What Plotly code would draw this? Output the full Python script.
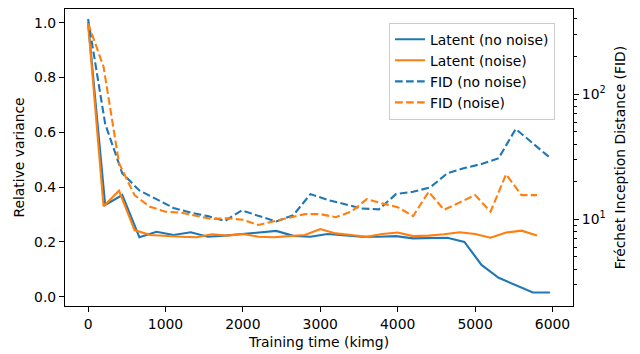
import plotly.graph_objects as go

# Training time (kimg) for each run
kimg_no_noise = [0, 221, 442, 663, 884, 1105, 1326, 1547, 1768, 1989, 2210, 2431, 2652, 2873,
                 3094, 3315, 3536, 3757, 3978, 4199, 4420, 4641, 4862, 5083, 5304, 5525, 5746, 5967]
kimg_noise = [0, 200, 400, 600, 800, 1000, 1200, 1400, 1600, 1800, 2000, 2200, 2400, 2600, 2800,
              3000, 3200, 3400, 3600, 3800, 4000, 4200, 4400, 4600, 4800, 5000, 5200, 5400, 5600, 5800]

latent_no_noise = [1.0, 0.335, 0.371, 0.217, 0.237, 0.225, 0.235, 0.219, 0.223, 0.228, 0.235, 0.240,
                   0.222, 0.219, 0.229, 0.225, 0.219, 0.219, 0.221, 0.213, 0.215, 0.215, 0.200, 0.116,
                   0.069, 0.043, 0.015, 0.015]
latent_noise = [1.0, 0.33, 0.387, 0.243, 0.225, 0.221, 0.219, 0.217, 0.228, 0.223, 0.229, 0.219, 0.217,
                0.221, 0.225, 0.247, 0.231, 0.225, 0.219, 0.229, 0.234, 0.221, 0.223, 0.228, 0.235,
                0.229, 0.215, 0.234, 0.241, 0.223]
fid_no_noise = [400, 58, 23.3, 17.0, 14.5, 12.3, 11.3, 10.6, 9.7, 11.8, 10.6, 9.6, 10.8, 15.9, 14.3,
                13.2, 12.2, 12.0, 15.9, 16.6, 18.0, 23.3, 25.7, 27.7, 30.8, 52.8, 40.8, 31.1]
fid_noise = [370, 166, 28.1, 15.6, 12.6, 11.5, 11.3, 10.7, 10.05, 10.2, 9.9, 9.0, 9.6, 10.2, 11.0, 11.0,
             10.4, 11.5, 14.5, 13.4, 12.5, 10.6, 16.6, 11.9, 13.6, 15.6, 11.5, 22.9, 15.6, 15.6]

x_ticks = [0, 1000, 2000, 3000, 4000, 5000, 6000]
y_ticks = [0.0, 0.2, 0.4, 0.6, 0.8, 1.0]
fid_ticks = [10, 100]
fid_tick_text = ["10<sup>1</sup>", "10<sup>2</sup>"]
fid_minor = [3, 4, 5, 6, 7, 8, 9, 20, 30, 40, 50, 60, 70, 80, 90, 200, 300, 400]

BLUE = "#1f77b4"
ORANGE = "#ff7f0e"
FONT = "DejaVu Sans"
FS = 13.9
DASH = "7.7px,3.3px"

fig = go.Figure()
fig.add_trace(go.Scatter(x=kimg_no_noise, y=latent_no_noise, mode="lines", name="Latent (no noise)",
                         line=dict(color=BLUE, width=2.1)))
fig.add_trace(go.Scatter(x=kimg_noise, y=latent_noise, mode="lines", name="Latent (noise)",
                         line=dict(color=ORANGE, width=2.1)))
fig.add_trace(go.Scatter(x=kimg_no_noise, y=fid_no_noise, mode="lines", name="FID (no noise)",
                         line=dict(color=BLUE, width=2.1, dash=DASH), yaxis="y2"))
fig.add_trace(go.Scatter(x=kimg_noise, y=fid_noise, mode="lines", name="FID (noise)",
                         line=dict(color=ORANGE, width=2.1, dash=DASH), yaxis="y2"))

axis_common = dict(showgrid=False, zeroline=False, showline=True, linecolor="black", linewidth=1.1,
                   ticks="outside", ticklen=5, tickwidth=1.1, tickcolor="black", automargin=False,
                   tickfont=dict(family=FONT, size=FS, color="black"))

fig.update_layout(
    width=640, height=354,
    margin=dict(l=65, r=67, t=9, b=48),
    paper_bgcolor="white", plot_bgcolor="white",
    font=dict(family=FONT, size=FS, color="black"),
    xaxis=dict(range=[-298, 6265], tickvals=x_ticks, mirror=True,
               title=dict(text="Training time (kimg)", standoff=6, font=dict(family=FONT, size=FS)),
               **axis_common),
    yaxis=dict(range=[-0.034, 1.05], tickvals=y_ticks, tickformat=".1f",
               title=dict(text="Relative variance", standoff=6, font=dict(family=FONT, size=FS)),
               **axis_common),
    yaxis2=dict(type="log", range=[0.3064, 2.682], overlaying="y", side="right",
                tickvals=fid_ticks, ticktext=fid_tick_text,
                minor=dict(tickvals=fid_minor, ticks="outside", ticklen=2.8, tickwidth=0.8, tickcolor="black"),
                title=dict(text="Fréchet Inception Distance (FID)", standoff=10, font=dict(family=FONT, size=FS)),
                **axis_common),
    legend=dict(x=0.9646, xanchor="right", y=0.954, yanchor="top",
                bgcolor="rgba(255,255,255,0.8)", bordercolor="#cccccc", borderwidth=1,
                font=dict(family=FONT, size=FS, color="black"), tracegroupgap=0),
    showlegend=True,
)

fig.write_html("out.html")
